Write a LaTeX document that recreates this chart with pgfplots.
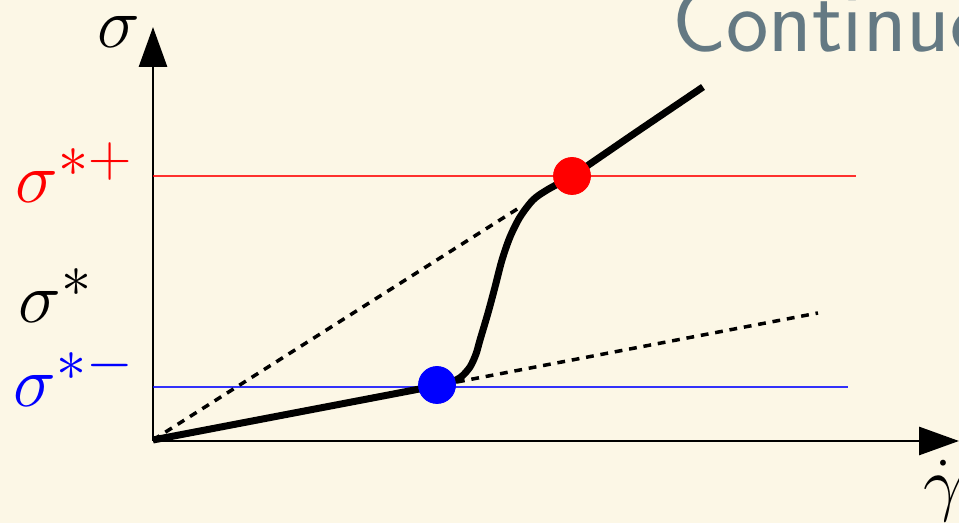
\documentclass[border=0pt]{standalone}
\usepackage{graphicx}
\usepackage{pgfplots}
\pgfplotsset{compat=1.18}
\usetikzlibrary{arrows.meta}
\definecolor{bgcream}{RGB}{252,247,230}
\definecolor{titlegrey}{RGB}{100,121,131}
\newcommand{\lbl}[1]{\scalebox{1.447}{\Huge$#1$}}
\begin{document}
\begin{tikzpicture}
\useasboundingbox (0,0) rectangle (479.5pt,261.5pt);
\clip (0,0) rectangle (479.5pt,261.5pt);
\fill[bgcream] (0,0) rectangle (479.5pt,261.5pt);
\begin{axis}[
  at={(0,0)}, anchor=south west,
  scale only axis, width=479.5pt, height=261.5pt,
  xmin=-1.53, xmax=8.06, ymin=-0.83, ymax=4.40,
  hide axis, clip=false,
]
% coordinate axes
\addplot[line width=1.45pt, -{Triangle[length=20pt,width=14pt]}] coordinates {(0,-0.01) (8.06,-0.01)};
\addplot[line width=1.45pt, -{Triangle[length=20pt,width=14pt]}] coordinates {(0,-0.01) (0,4.13)};
% threshold stresses
\addplot[line width=1.45pt, red, opacity=0.8] coordinates {(0,2.64) (7.03,2.64)};
\addplot[line width=1.45pt, blue, opacity=0.8] coordinates {(0,0.53) (6.95,0.53)};
% extrapolated branches
\addplot[line width=1.75pt, dash pattern=on 3.9pt off 3.4pt] coordinates {(0,0) (3.69,2.34)};
\addplot[line width=1.75pt, dash pattern=on 3.9pt off 3.4pt] coordinates {(3.04,0.58) (6.65,1.27)};
% flow curve
\addplot[line width=3.5pt, smooth, tension=0.5] coordinates {
 (0,0) (1.4,0.268) (2.82,0.54) (2.97,0.575) (3.08,0.63) (3.17,0.73) (3.23,0.86)
 (3.27,1.00) (3.35,1.27) (3.42,1.53) (3.49,1.80) (3.57,2.03) (3.67,2.23)
 (3.80,2.40) (3.94,2.50) (4.19,2.64) (4.50,2.85) (4.85,3.09) (5.50,3.53)};
% jump points
\addplot[only marks, mark=*, mark size=9.25pt, blue, mark options={draw=none}] coordinates {(2.84,0.55)};
\addplot[only marks, mark=*, mark size=9.25pt, red, mark options={draw=none}] coordinates {(4.19,2.64)};
% labels
\node[anchor=base west, inner sep=0] at (axis cs:-0.56,3.92) {\lbl{\sigma}};
\node[anchor=base west, inner sep=0, red] at (axis cs:-1.38,2.37) {\lbl{\sigma^{*+}}};
\node[anchor=base west, inner sep=0] at (axis cs:-1.35,1.17) {\lbl{\sigma^{*}}};
\node[anchor=base west, inner sep=0, blue] at (axis cs:-1.40,0.33) {\lbl{\sigma^{*-}}};
\node[anchor=base west, inner sep=0] at (axis cs:7.70,-0.68) {\lbl{\dot{\gamma}}};
\node[anchor=base west, inner sep=0, titlegrey] at (axis cs:5.19,3.88) {\fontsize{45}{50}\selectfont\sffamily Continuous};
\end{axis}
\end{tikzpicture}
\end{document}
